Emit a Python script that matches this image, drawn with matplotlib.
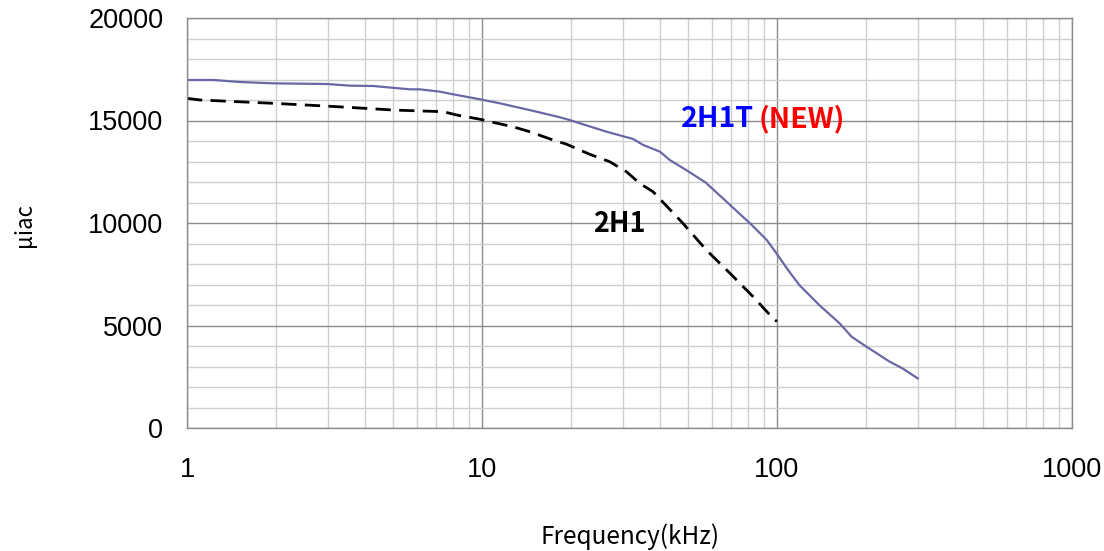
import matplotlib
matplotlib.use("Agg")
import matplotlib.pyplot as plt
from matplotlib.ticker import FixedLocator, NullFormatter, MultipleLocator

# ---- data ----
freq_new = [1, 1.23, 1.51, 1.96, 2.98, 3.57, 4.28, 5.7, 6.16, 7.2, 8.0, 9.85,
            11.5, 15, 18.4, 19.8, 26.4, 32.5, 35.2, 40.1, 43.3, 49.2, 57.3,
            81, 92.3, 99.6, 109, 119, 139, 163, 179, 197, 241, 266, 300]
mu_new = [16976, 16976, 16878, 16813, 16780, 16700, 16683, 16520, 16520, 16406, 16276, 16033,
          15838, 15460, 15155, 15024, 14455, 14100, 13805, 13480, 13073, 12585, 11975,
          9985, 9171, 8520, 7707, 6976, 6000, 5107, 4454, 4049, 3234, 2912, 2420]

freq_old = [1, 1.11, 1.96, 2.82, 3.21, 4.4, 5.0, 7.4, 8.2, 9.85, 10.9, 12.7, 14.5,
            17.4, 19.3, 23.2, 27.1, 30.9, 34.2, 38, 48, 57.6, 69.3, 83, 97.6, 100]
mu_old = [16080, 16000, 15838, 15720, 15675, 15560, 15510, 15430, 15268, 15060, 14910, 14700, 14455,
          14050, 13850, 13350, 12990, 12500, 11937, 11527, 9985, 8683, 7546, 6405, 5302, 5200]

x_ticks = [1, 10, 100, 1000]
x_ticklabels = ["1", "10", "100", "1000"]
y_ticks = [0, 5000, 10000, 15000, 20000]
y_ticklabels = ["0", "5000", "10000", "15000", "20000"]

label_new = "2H1T"
label_new_suffix = "(NEW)"
label_old = "2H1"

# ---- figure ----
W, H = 1104, 551
fig = plt.figure(figsize=(W / 100, H / 100), dpi=100)
ax = fig.add_axes([187 / W, (H - 428) / H, (1072 - 187) / W, (428 - 18) / H])

ax.set_xscale("log")
ax.set_xlim(1, 1000)
ax.set_ylim(0, 20000)

minor_x = [m * 10 ** d for d in range(0, 3) for m in range(2, 10)]
ax.xaxis.set_major_locator(FixedLocator(x_ticks))
ax.xaxis.set_minor_locator(FixedLocator(minor_x))
ax.xaxis.set_minor_formatter(NullFormatter())
ax.set_xticklabels(x_ticklabels)
ax.set_yticks(y_ticks)
ax.set_yticklabels(y_ticklabels)
ax.yaxis.set_minor_locator(MultipleLocator(1000))

ax.grid(which="major", color="#8c8c8c", lw=1.0)
ax.grid(which="minor", color="#cfcfcf", lw=1.0)
ax.set_axisbelow(True)
ax.tick_params(which="both", length=0)
ax.tick_params(axis="y", pad=17)
ax.tick_params(axis="x", pad=21)
for lab in ax.get_xticklabels() + ax.get_yticklabels():
    lab.set_fontfamily("Liberation Sans")
    lab.set_fontsize(19.5)
for s in ax.spines.values():
    s.set_color("#8c8c8c")
    s.set_linewidth(1.0)

ax.plot(freq_new, mu_new, color="#6a68a4", lw=1.6, solid_joinstyle="round")
ax.plot(freq_old, mu_old, color="black", lw=2.0, dashes=(5.5, 3))

cjk = ["Noto Sans CJK KR", "DejaVu Sans"]
t1 = ax.text(47.3, 15073, label_new, color="#0000ff", fontsize=20.5, fontweight="heavy",
             family=cjk, va="center", ha="left")
ax.annotate(label_new_suffix, xy=(1, 0), xycoords=t1, xytext=(3, 0), textcoords="offset points",
            color="#ff0000", fontsize=20.5, fontweight="heavy", family=cjk,
            va="bottom", ha="left")
ax.text(23.8, 9951, label_old, color="black", fontsize=19.5, fontweight="heavy",
        family=cjk, va="center", ha="left")

fig.text(630 / W, 1 - 537 / H, "Frequency(kHz)", ha="center", va="center", fontsize=17.5,
         family=cjk)
fig.text(25 / W, 1 - 225 / H, "μiac", ha="center", va="center", fontsize=16, rotation=90,
         family=cjk)

fig.savefig("out.png", dpi=100)
